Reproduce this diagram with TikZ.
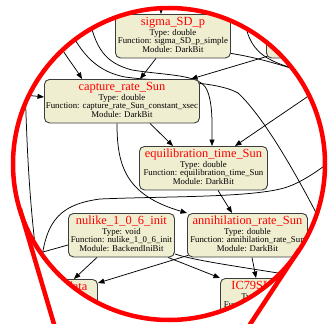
\documentclass[tikz,border=0pt]{standalone}
\usepackage{fontspec}
\setmainfont{Liberation Serif}
\usetikzlibrary{arrows.meta}
\pgfdeclarelayer{bg}
\pgfdeclarelayer{edges}
\pgfsetlayers{bg,edges,main}
\definecolor{boxfill}{RGB}{240,238,208}
\definecolor{boxline}{RGB}{60,60,60}
\tikzset{
 gbox/.style={draw=boxline, fill=boxfill, line width=0.9pt, rounded corners=5pt, inner sep=0pt, anchor=north west},
 gtitle/.style={anchor=base, inner sep=0pt, text=red, font=\fontsize{12.4}{14}\selectfont},
 gbody/.style={anchor=base, inner sep=0pt, text=black, font=\fontsize{8.8}{10}\selectfont},
 edge/.style={draw=black, line width=0.75pt, -{Triangle[length=6.5pt,width=5pt]}},
 plain/.style={draw=black, line width=0.75pt},
 lens/.style={draw=red, line width=4.5pt},
}
\newcommand\gnode[8]{%
 \node[gbox, minimum width=#4pt, minimum height=43.5pt] (#1) at (#2,#3) {};
 \node[gtitle] (#1-t) at ([yshift=-11.8pt]#1.north) {#5};
 \node[gbody] (#1-a) at ([yshift=-21.3pt]#1.north) {Type: #6};
 \node[gbody] (#1-b) at ([yshift=-29.8pt]#1.north) {Function: #7};
 \node[gbody] (#1-c) at ([yshift=-38.3pt]#1.north) {Module: #8};
}
\begin{document}
\begin{tikzpicture}[x=1pt,y=-1pt]
\useasboundingbox (0,0) rectangle (330,324);
\begin{pgfonlayer}{bg}
\fill[white] (0,0) rectangle (330,324);
\end{pgfonlayer}
\begin{scope}
\clip (169,164) circle [radius=156pt];
\gnode{sigma}{115}{14}{115}{sigma\_SD\_p}{double}{sigma\_SD\_p\_simple}{DarkBit}
\node[gbox, minimum width=100pt, minimum height=43.5pt] (rbox) at (266,14) {};
\gnode{capture}{44}{79}{155}{capture\_rate\_Sun}{double}{capture\_rate\_Sun\_constant\_xsec}{DarkBit}
\gnode{equil}{139}{146}{128}{equilibration\_time\_Sun}{double}{equilibration\_time\_Sun}{DarkBit}
\gnode{nulike}{68}{213}{106}{nulike\_1\_0\_6\_init}{void}{nulike\_1\_0\_6\_init}{BackendIniBit}
\gnode{annih}{187}{213}{120}{annihilation\_rate\_Sun}{double}{annihilation\_rate\_Sun}{DarkBit}
\gnode{ata}{6}{279}{91}{IC79WL\_data}{nudata}{IC79WL\_full}{DarkBit}
\gnode{ic}{220}{278}{88}{IC79SL\_data}{nudata}{IC79SL\_full}{DarkBit}
\end{scope}
\begin{pgfonlayer}{edges}
\begin{scope}
\clip (169,164) circle [radius=156pt];
\coordinate (o1) at (45,20);
\coordinate (o4) at (15,94);
\coordinate (o5) at (88,12);
\coordinate (o6) at (66,22);
\coordinate (o6b) at (330,240);
\coordinate (o8) at (332,80);
\coordinate (o9) at (335,82);
\coordinate (o10) at (244,12);
\coordinate (o10b) at (335,76);
\coordinate (o13) at (40,275);
\coordinate (o13b) at (345,150);
\coordinate (o14) at (25,257);
\coordinate (o19) at (340,283);
\coordinate (o20) at (24,50);
\coordinate (o20b) at (42,300);
\coordinate (o21) at (122,-5);
\coordinate (o22) at (161,-5);
\draw[edge] (o1) .. controls (62,52) and (74,66) .. ([xshift=38pt]capture.north west);
\draw[edge] ([xshift=41pt]sigma.south west) -- ([xshift=96pt]capture.north west);
\draw[edge] ([xshift=1pt,yshift=2pt]rbox.south west) -- ([xshift=147pt]capture.north west);
\draw[edge] (o4) -- ([yshift=-18pt]capture.north west);
\draw[edge] (o5) .. controls (95,50) and (106,63) .. (132,70) .. controls (170,76) and (200,74) .. (207,90) .. controls (213,104) and (212,125) .. ([xshift=73pt]equil.north west);
\draw[plain] (o6) .. controls (82,58) and (100,72) .. (125,77) .. controls (160,82) and (215,80) .. (238,93) .. controls (265,118) and (300,180) .. (o6b);
\draw[edge] ([xshift=106pt]capture.south west) -- ([xshift=34pt]equil.north west);
\draw[edge] (o8) -- ([xshift=96pt]equil.north west);
\draw[plain] ([yshift=5pt]sigma.south east) .. controls (260,58) and (285,66) .. (o9);
\draw[plain] (o10) .. controls (247,52) and (262,66) .. (o10b);
\draw[edge] ([xshift=73pt]capture.south west) .. controls (117,165) and (125,195) .. (annih.north west);
\draw[edge] ([xshift=79pt]equil.south west) -- ([xshift=45pt]annih.north west);
\draw[plain] (o13) .. controls (44,225) and (55,205) .. (100,199) .. controls (170,196) and (260,198) .. (290,186) .. controls (305,180) and (320,170) .. (o13b);
\draw[plain] (o14) -- ([yshift=-32pt]nulike.north west);
\draw[edge] ([xshift=29pt]nulike.south west) -- ([xshift=-24pt]ata.north east);
\draw[edge] ([xshift=1pt,yshift=2pt]annih.south west) -- ([yshift=-4pt]ata.north east);
\draw[edge] ([xshift=100pt]nulike.south west) -- (ic.north west);
\draw[edge] ([xshift=65pt]annih.south west) -- ([xshift=36pt]ic.north west);
\draw[plain] ([yshift=-41pt]nulike.north east) .. controls (200,262) and (250,268) .. (o19);
\draw[plain] (o20) .. controls (27,150) and (28,200) .. (o20b);
\draw[edge] (o21) -- ([xshift=20pt]sigma.north west);
\draw[edge] (o22) -- ([xshift=46pt]sigma.north west);
\end{scope}
\end{pgfonlayer}
\coordinate (lensc) at (169,164);
\coordinate (apex) at (115,530);
\coordinate (t1) at (19.7,208.3);
\coordinate (t2) at (299.2,249.5);
\draw[lens] (lensc) circle [radius=156pt];
\draw[lens] (t1) -- (apex);
\draw[lens] (t2) -- (apex);
\end{tikzpicture}
\end{document}
